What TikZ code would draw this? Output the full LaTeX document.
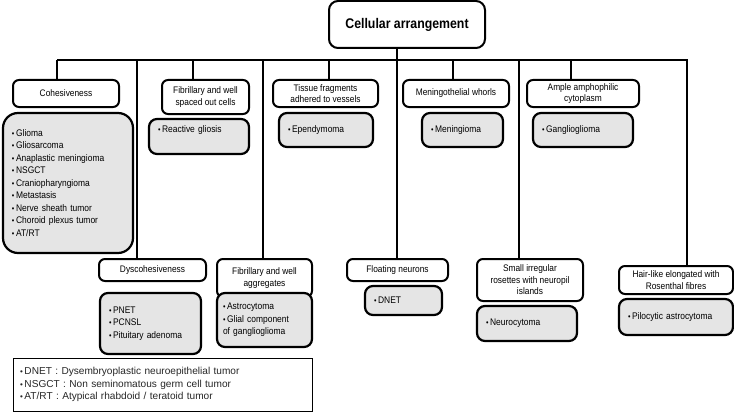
\documentclass[tikz,border=0pt]{standalone}
\usepackage{fontspec}
\setmainfont{Liberation Sans}[FakeStretch=0.88]
\newfontfamily\legfont{Liberation Sans}
\newcommand{\bu}{{\footnotesize\textbullet}\,}
\tikzset{
  head/.style={draw,line width=2pt,rounded corners=6pt,fill=white,align=center,inner sep=2pt,
    font=\fontsize{9.5}{11.5}\selectfont},
  itembox/.style={draw,line width=2.2pt,rounded corners=8pt,fill=gray!20,align=left,
    inner xsep=9pt,inner ysep=3pt,font=\fontsize{9.6}{12.5}\selectfont},
  conn/.style={line width=1.8pt}
}
\begin{document}
\begin{tikzpicture}[x=1pt,y=-1pt]
\useasboundingbox (0,0) rectangle (734,412);
%root
\node[head,minimum width=156,minimum height=47,rounded corners=9pt,font=\fontsize{14}{17}\selectfont\bfseries] (title) at (407,24.5) {Cellular arrangement};
%upper headings
\node[head,minimum width=106,minimum height=27] (coh) at (66,93.5) {Cohesiveness};
\node[head,minimum width=87,minimum height=34] (fibsp) at (205.5,97) {Fibrillary and well\\spaced out cells};
\node[head,minimum width=105,minimum height=27,font=\fontsize{9.5}{10.5}\selectfont] (tis) at (325.5,93.5) {Tissue fragments\\adhered to vessels};
\node[head,minimum width=106,minimum height=27] (whorl) at (456,93.5) {Meningothelial whorls};
\node[head,minimum width=112,minimum height=27,font=\fontsize{9.5}{10.5}\selectfont] (amph) at (583,93.5) {Ample amphophilic\\cytoplasm};
%upper lists
\node[itembox,text width=112,minimum height=140,rounded corners=15pt] (cohlist) at (68,183)
  {\bu Glioma\\\bu Gliosarcoma\\\bu Anaplastic meningioma\\\bu NSGCT\\\bu Craniopharyngioma\\\bu Metastasis\\\bu Nerve sheath tumor\\\bu Choroid plexus tumor\\\bu AT/RT};
\node[itembox,text width=82,minimum height=35,text depth=15pt] (gliosis) at (199,136.5) {\bu Reactive gliosis};
\node[itembox,text width=76,minimum height=34] (epend) at (326,130) {\bu Ependymoma};
\node[itembox,text width=63,minimum height=34] (menin) at (462.5,130) {\bu Meningioma};
\node[itembox,text width=82,minimum height=34] (gangl) at (583,130) {\bu Ganglioglioma};
%lower headings
\node[head,minimum width=107,minimum height=22] (dys) at (152.5,270) {Dyscohesiveness};
\node[head,minimum width=95,minimum height=38] (fibag) at (264.5,278) {Fibrillary and well\\aggregates};
\node[head,minimum width=101,minimum height=22] (float) at (397.5,270) {Floating neurons};
\node[head,minimum width=106,minimum height=42] (roset) at (530,280) {Small irregular\\rosettes with neuropil\\islands};
\node[head,minimum width=114,minimum height=28] (hair) at (676,280) {Hair-like elongated with\\Rosenthal fibres};
%lower lists
\node[itembox,text width=83,minimum height=61] (pnet) at (150.5,323.5) {\bu PNET\\\bu PCNSL\\\bu Pituitary adenoma};
\node[itembox,text width=83,minimum height=54,inner xsep=6pt] (astro) at (264.5,320) {\bu Astrocytoma\\\bu Glial component\\of ganglioglioma};
\node[itembox,text width=59,minimum height=29] (dnet) at (403.5,300.5) {\bu DNET};
\node[itembox,text width=82,minimum height=35] (neuro) at (527,323.5) {\bu Neurocytoma};
\node[itembox,text width=96,minimum height=36] (pilo) at (676,317) {\bu Pilocytic astrocytoma};
%abbreviations
\node[draw,line width=0.8pt,text width=285,minimum height=53,align=left,inner xsep=7pt,
  font=\legfont\fontsize{10.1}{12.2}\selectfont,text=black!85] (legend) at (162.5,384.5)
  {\bu DNET : Dysembryoplastic neuroepithelial tumor\\\bu NSGCT : Non seminomatous germ cell tumor\\\bu AT/RT : Atypical rhabdoid / teratoid tumor};
%connectors
\draw[conn] (57,60) coordinate (busL) -- (688,60) coordinate (busR);
\foreach \x/\n in {57/coh,193/fibsp,329/tis,453/whorl,571/amph,137/dys,263/fibag,397/float,519/roset,687/hair}{
  \coordinate (top-\n) at (\x,60);
  \draw[conn] (top-\n) -- (top-\n |- \n.north);
}
\draw[conn] (top-float |- title.south) -- (top-float);
\end{tikzpicture}
\end{document}
